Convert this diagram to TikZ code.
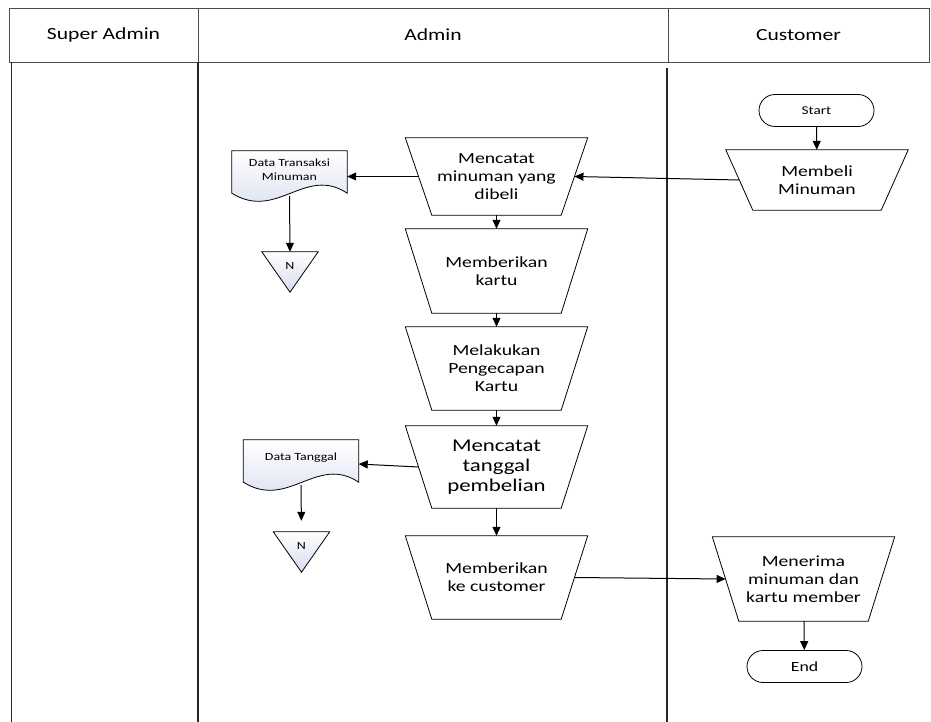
\documentclass[tikz,border=0pt]{standalone}
\usepackage{fontspec}
\setmainfont{Carlito}[FakeStretch=1.27]
\usetikzlibrary{shapes.geometric,arrows.meta,calc}
\definecolor{docbot}{RGB}{214,219,240}
\newcommand\manopshape[2]{\draw[trapline] (#1.north west) -- (#1.north east) -- ($(#1.south east)+(-#2,0)$) -- ($(#1.south west)+(#2,0)$) -- cycle;}
\begin{document}
\begin{tikzpicture}[x=1pt,y=-1pt,
  lane/.style={draw=black!70, line width=0.9pt},
  laneline/.style={draw=black!85, line width=1.5pt},
  hdr/.style={font=\fontsize{17}{19}\selectfont},
  manop/.style={rectangle, minimum width=182pt, align=center, inner sep=0pt,
    font=\fontsize{15.5}{18}\selectfont},
  trapline/.style={draw, line width=0.8pt},
  term/.style={draw, line width=0.8pt, rounded corners=16pt, minimum width=115pt,
    minimum height=32pt, inner sep=0pt},
  docbox/.style={minimum width=115pt, minimum height=42pt, inner sep=0pt, align=center,
    font=\fontsize{11}{14}\selectfont},
  docshape/.style={draw, line width=0.8pt, top color=white, bottom color=docbot},
  tribox/.style={minimum width=56pt, minimum height=40pt, inner sep=0pt},
  trilabel/.style={font=\fontsize{11}{13}\selectfont, inner sep=0pt},
  arr/.style={-{Triangle[length=9pt,width=8pt]}, line width=1pt}
]
\useasboundingbox (0,0) rectangle (931,722);

% header
\draw[lane] (9,8) rectangle (929,62);
\draw[lane] (198,8) -- (198,62);
\draw[lane] (668,8) -- (668,62);
\node[hdr] (hsa) at (103.5,35) {Super Admin};
\node[hdr] (had) at (433,35) {Admin};
\node[hdr] (hcu) at (798.5,35) {Customer};

% lane lines
\draw[laneline] (11.5,62) -- (11.5,722);
\draw[laneline] (198,62) -- (198,722);
\draw[laneline] (667,68) -- (667,722);

% customer
\node[term, font=\fontsize{12}{14}\selectfont] (start) at (816.5,110.5) {Start};
\node[manop, minimum height=60pt] (mem) at (817,180) {Membeli\\Minuman};
\manopshape{mem}{27}
\node[manop, minimum height=84pt] (mnr) at (803.5,579) {Menerima\\minuman dan\\kartu member};
\manopshape{mnr}{26.5}
\node[term, font=\fontsize{14}{16}\selectfont] (end) at (804.5,666.5) {End};

% admin
\node[manop, minimum height=77pt] (mcat) at (496.5,176.5) {Mencatat\\minuman yang\\dibeli};
\manopshape{mcat}{26.5}
\node[manop, minimum height=84pt] (mk) at (496.5,271) {Memberikan\\kartu};
\manopshape{mk}{26.5}
\node[manop, minimum height=83pt] (mp) at (496.5,368.5) {Melakukan\\Pengecapan\\Kartu};
\manopshape{mp}{26.5}
\node[manop, minimum height=82pt, font=\fontsize{18}{20}\selectfont] (mtg) at (496.5,467) {Mencatat\\tanggal\\pembelian};
\manopshape{mtg}{26.5}
\node[manop, minimum height=83pt] (mkc) at (496.5,577.5) {Memberikan\\ke customer};
\manopshape{mkc}{26.5}

% documents
\node[docbox] (dtm) at (289.5,172) {};
\draw[docshape] (dtm.north west) -- (dtm.north east) -- (dtm.south east)
  .. controls ($(dtm.south east)+(-42,-28)$) and ($(dtm.south west)+(45,28)$) .. (dtm.south west) -- cycle;
\node[docbox] (dtmt) at (289.5,170) {Data Transaksi\\Minuman};

\node[docbox] (dtg) at (301,461) {};
\draw[docshape] (dtg.north west) -- (dtg.north east) -- (dtg.south east)
  .. controls ($(dtg.south east)+(-42,-28)$) and ($(dtg.south west)+(45,28)$) .. (dtg.south west) -- cycle;
\node[docbox] (dtgt) at (301,458) {Data Tanggal};

% off-page triangles
\node[tribox] (n1) at (290,272) {};
\draw[docshape] (n1.north west) -- (n1.north east) -- (n1.south) -- cycle;
\node[trilabel] (n1t) at (290,266) {N};

\node[tribox] (n2) at (301.5,552) {};
\draw[docshape] (n2.north west) -- (n2.north east) -- (n2.south) -- cycle;
\node[trilabel] (n2t) at (301.5,546) {N};

% connectors
\draw[arr] (start) -- (mem);
\draw[arr] ($(mem.west)+(13.5,0)$) -- ($(mcat.east)+(-13.25,0)$);
\draw[arr] ($(mcat.west)+(13.25,0)$) -- (mcat.west -| dtm.east);
\draw[arr] ($(dtm.south)+(0,3)$) -- (n1.north);
\draw[arr] (mcat) -- (mk);
\draw[arr] (mk) -- (mp);
\draw[arr] (mp) -- (mtg);
\draw[arr] ($(mtg.west)+(13.25,0)$) -- ($(dtg.east)+(0,3)$);
\draw[arr, shorten >=11pt] ($(dtg.south)+(0,3)$) -- (n2.north);
\draw[arr] (mtg) -- (mkc);
\draw[arr] ($(mkc.east)+(-13.25,0)$) -- ($(mnr.west)+(13.25,0)$);
\draw[arr] (mnr) -- (end);
\end{tikzpicture}
\end{document}
